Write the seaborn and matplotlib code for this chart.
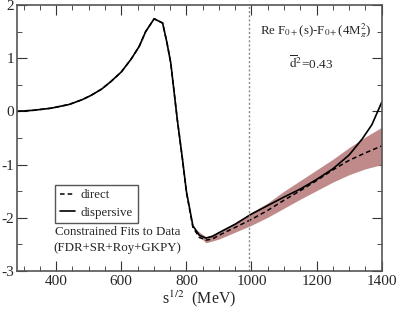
import matplotlib
matplotlib.use("Agg")
import matplotlib.pyplot as plt
import numpy as np
import pandas as pd
import seaborn as sns
from matplotlib.ticker import MultipleLocator

# dispersive (solid) curve
disp_x = [280, 330, 385, 440, 480, 507, 540, 568, 600, 630, 655, 675, 701, 727, 740,
          752, 772, 788, 800, 820, 840, 860, 880, 900, 950, 1000, 1050, 1100, 1150,
          1200, 1250, 1300, 1340, 1370, 1400]
disp_y = [0.0, 0.02, 0.06, 0.13, 0.22, 0.30, 0.42, 0.56, 0.74, 0.98, 1.22, 1.5, 1.74,
          1.66, 1.3, 0.91, -0.15, -0.9, -1.5, -2.15, -2.33, -2.38, -2.35, -2.28,
          -2.12, -1.93, -1.77, -1.61, -1.46, -1.28, -1.08, -0.82, -0.52, -0.25, 0.17]

# direct (dashed) curve
dir_x = [280, 330, 385, 440, 480, 507, 540, 568, 600, 630, 655, 675, 701, 727, 740,
         752, 772, 788, 800, 820, 840, 860, 880, 900, 950, 1000, 1050, 1100, 1150,
         1200, 1250, 1300, 1350, 1400]
dir_y = [0.0, 0.02, 0.06, 0.13, 0.22, 0.30, 0.42, 0.56, 0.74, 0.98, 1.22, 1.5, 1.74,
         1.66, 1.3, 0.91, -0.15, -0.9, -1.52, -2.18, -2.37, -2.42, -2.40, -2.33,
         -2.18, -2.03, -1.86, -1.67, -1.49, -1.30, -1.10, -0.92, -0.78, -0.65]

# error band of the direct fit
band_x = [825, 860, 900, 950, 1000, 1050, 1100, 1150, 1200, 1250, 1300, 1350, 1400]
band_lo = [-2.26, -2.47, -2.40, -2.27, -2.14, -1.99, -1.82, -1.65, -1.49, -1.33,
           -1.19, -1.08, -1.00]
band_hi = [-2.20, -2.36, -2.26, -2.09, -1.90, -1.72, -1.50, -1.30, -1.10, -0.90,
           -0.68, -0.48, -0.30]

sns.set_style("ticks")
plt.rcParams["font.family"] = ["Liberation Serif", "DejaVu Serif"]
plt.rcParams["mathtext.fontset"] = "stix"
plt.rcParams["axes.unicode_minus"] = False

fig = plt.figure(figsize=(3.98, 3.09), dpi=100)
ax = fig.add_axes([0.043, 0.123, 0.916, 0.861])

ax.fill_between(band_x, band_lo, band_hi, color="#c08a8a", linewidth=0)
sns.lineplot(x=dir_x, y=dir_y, ax=ax, color="black", linewidth=1.1,
             linestyle=(0, (3, 2)), label="direct")
sns.lineplot(x=disp_x, y=disp_y, ax=ax, color="black", linewidth=1.2,
             label="dispersive")
ax.axvline(992, color="#888888", linestyle=(0, (1.5, 1.5)), linewidth=1)

ax.set_xlim(280, 1400)
ax.set_ylim(-3, 2)
ax.xaxis.set_major_locator(MultipleLocator(200))
ax.xaxis.set_minor_locator(MultipleLocator(50))
ax.yaxis.set_major_locator(MultipleLocator(1))
ax.yaxis.set_minor_locator(MultipleLocator(0.5))
ax.tick_params(which="both", direction="in", top=True, right=True,
               labelsize=11, color="#333333")
ax.tick_params(axis="y", pad=2)
ax.tick_params(axis="x", pad=3)
ax.tick_params(which="major", length=7)
ax.tick_params(which="minor", length=3.5)
for sp in ax.spines.values():
    sp.set_color("#555555")
    sp.set_linewidth(1.2)

ax.set_xlabel(r"s$^{1/2}$  (MeV)", fontsize=11.5, labelpad=0)

leg = ax.legend(loc="lower left", bbox_to_anchor=(0.104, 0.18), fontsize=9.3,
                handlelength=1.2, fancybox=False, framealpha=1,
                borderpad=0.35, labelspacing=0.4, handletextpad=0.45,
                borderaxespad=0)
leg.get_frame().set_edgecolor("#555555")
leg.get_frame().set_linewidth(1.0)

ax.text(0.275, 0.145, "Constrained Fits to Data", transform=ax.transAxes,
        ha="center", va="center", fontsize=9.3)
ax.text(0.275, 0.088, "(FDR+SR+Roy+GKPY)", transform=ax.transAxes,
        ha="center", va="center", fontsize=9.3)
ax.text(0.82, 0.905, r"Re F$_{0+}$(s)-F$_{0+}$(4M$_\pi^2$)", transform=ax.transAxes,
        ha="center", va="center", fontsize=9.3)
ax.text(0.805, 0.78, r"$\overline{\mathrm{d}}^{2}$=0.43", transform=ax.transAxes,
        ha="center", va="center", fontsize=9.5)

fig.savefig("out.png", dpi=100)
